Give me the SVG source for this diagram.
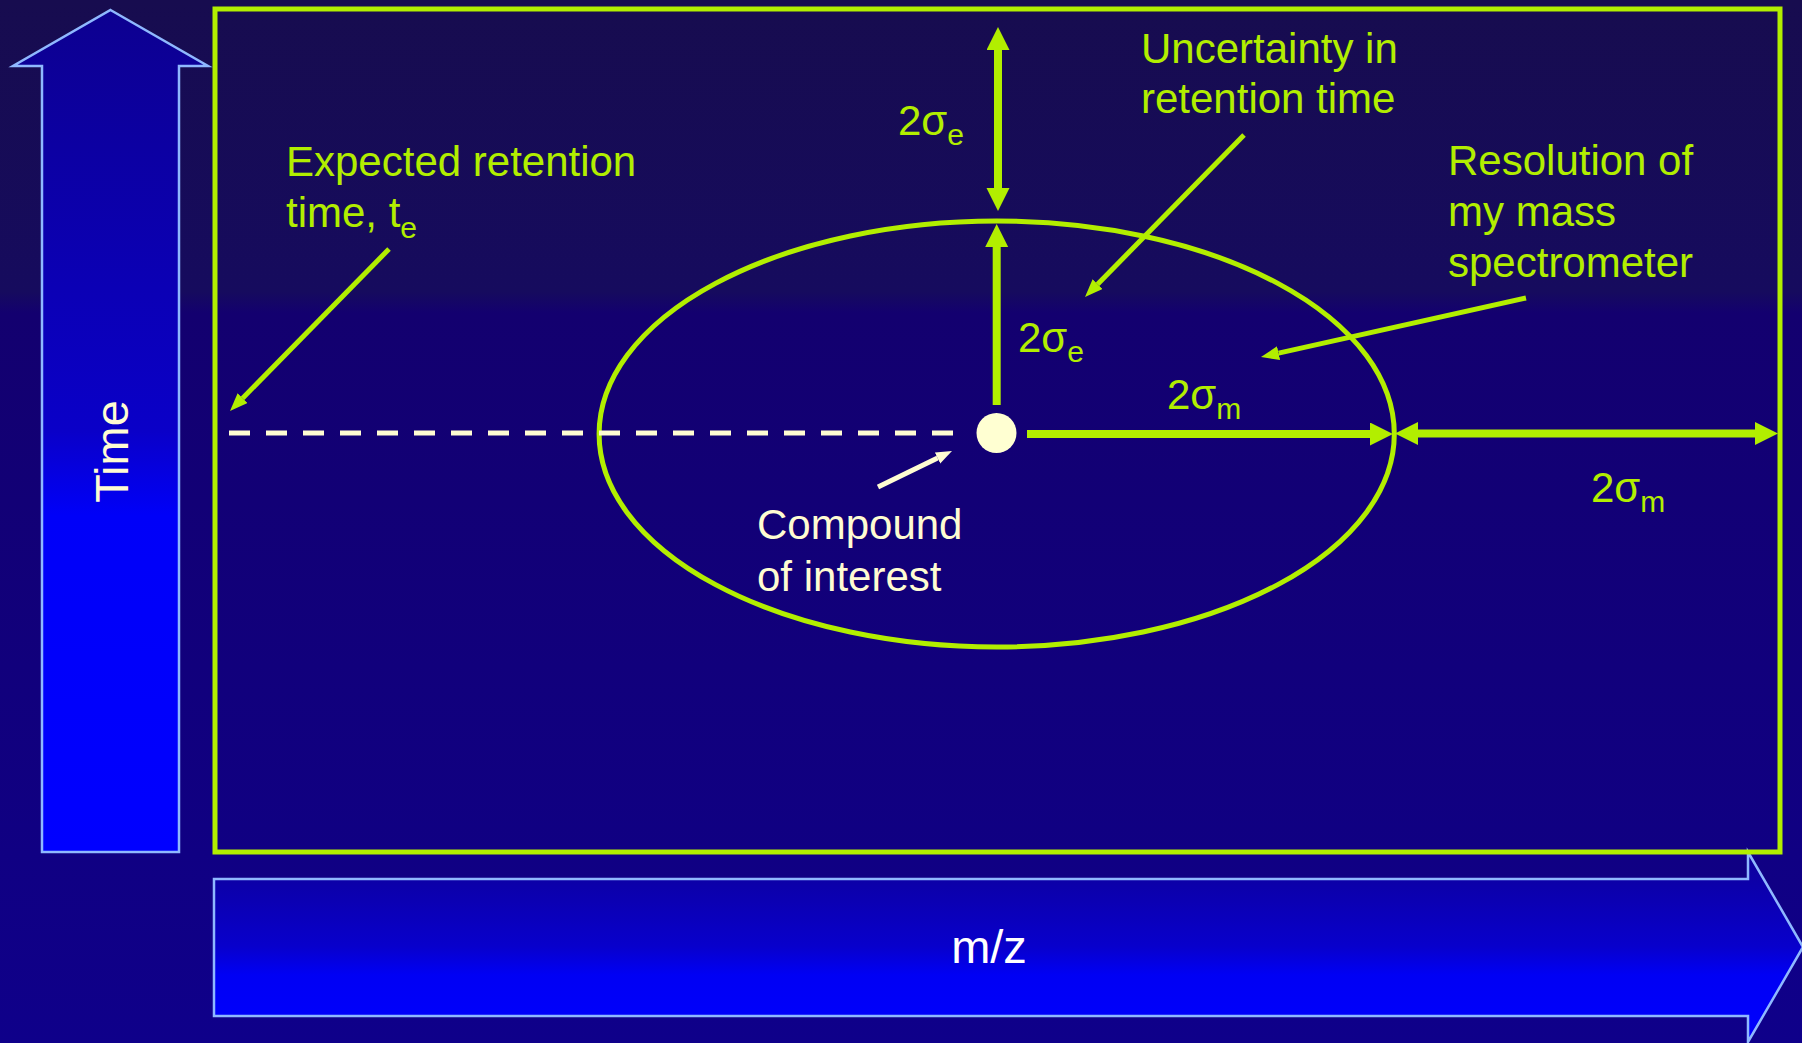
<svg xmlns="http://www.w3.org/2000/svg" width="1802" height="1043" viewBox="0 0 1802 1043">
  <defs>
    <linearGradient id="bg" x1="0" y1="0" x2="0" y2="1">
      <stop offset="0" stop-color="#170c4f"/>
      <stop offset="0.28" stop-color="#160b5e"/>
      <stop offset="0.30" stop-color="#13006f"/>
      <stop offset="1" stop-color="#0f008a"/>
    </linearGradient>
    <linearGradient id="timeFill" gradientUnits="userSpaceOnUse" x1="0" y1="10" x2="0" y2="852">
      <stop offset="0" stop-color="#0d0090"/>
      <stop offset="0.5" stop-color="#0a00c8"/>
      <stop offset="0.6" stop-color="#0000f8"/>
      <stop offset="1" stop-color="#0000ff"/>
    </linearGradient>
    <linearGradient id="mzFill" gradientUnits="userSpaceOnUse" x1="0" y1="852" x2="0" y2="1041">
      <stop offset="0" stop-color="#0e0098"/>
      <stop offset="0.5" stop-color="#0800cc"/>
      <stop offset="0.65" stop-color="#0000f4"/>
      <stop offset="1" stop-color="#0000ff"/>
    </linearGradient>
    <marker id="bigHead" markerUnits="userSpaceOnUse" markerWidth="24" markerHeight="24" refX="0" refY="11.5" orient="auto-start-reverse" viewBox="0 0 24 24">
      <path d="M0,0 L23,11.5 L0,23 Z" fill="#b2ee00"/>
    </marker>
    <marker id="smallHead" markerUnits="userSpaceOnUse" markerWidth="20" markerHeight="16" refX="0" refY="7" orient="auto" viewBox="0 0 20 16">
      <path d="M0,0 L18,7 L0,14 Z" fill="#b2ee00"/>
    </marker>
    <marker id="creamHead" markerUnits="userSpaceOnUse" markerWidth="18" markerHeight="14" refX="0" refY="6" orient="auto" viewBox="0 0 18 14">
      <path d="M0,0 L16,6 L0,12 Z" fill="#fffcd2"/>
    </marker>
    <style>
      .lbl { font-family: "Liberation Sans", Arial, sans-serif; font-size: 42px; fill: #b2ee00; }
      .sub { font-size: 30px; }
      .cream { fill: #fffcd2; }
      .axis { font-family: "Liberation Sans", Arial, sans-serif; font-size: 47px; }
      .big { stroke: #b2ee00; stroke-width: 8; fill: none; }
      .thin { stroke: #b2ee00; stroke-width: 5; fill: none; }
      .axisArrow { stroke: #8fb8ff; stroke-width: 2.5; }
    </style>
  </defs>

  <rect x="0" y="0" width="1802" height="1043" fill="url(#bg)"/>

  <g id="time-axis">
    <path class="axisArrow" d="M110.5,10 L208,66 L179,66 L179,852 L42,852 L42,66 L13,66 Z" fill="url(#timeFill)"/>
    <text class="axis" fill="#fffcd2" text-anchor="middle" transform="translate(128,451.5) rotate(-90)">Time</text>
  </g>

  <g id="mz-axis">
    <path class="axisArrow" d="M214,879 L1748,879 L1748,852 L1803,947 L1748,1042 L1748,1016 L214,1016 Z" fill="url(#mzFill)"/>
    <text class="axis" fill="#ffffff" text-anchor="middle" x="989" y="963">m/z</text>
  </g>

  <g id="plot-frame">
    <rect x="215" y="9" width="1565" height="843" fill="none" stroke="#b2ee00" stroke-width="5"/>
  </g>

  <g id="uncertainty-ellipse">
    <ellipse cx="996.7" cy="434" rx="397.6" ry="213" fill="none" stroke="#b2ee00" stroke-width="5"/>
  </g>

  <g id="connectors">
    <line x1="229" y1="433" x2="953" y2="433" stroke="#fffcd2" stroke-width="5" stroke-dasharray="21 16"/>
    <line class="big" x1="998" y1="50" x2="998" y2="188" marker-start="url(#bigHead)" marker-end="url(#bigHead)"/>
    <line class="big" x1="996.7" y1="405" x2="996.7" y2="247" marker-end="url(#bigHead)"/>
    <line class="big" x1="1027" y1="434" x2="1370" y2="434" marker-end="url(#bigHead)"/>
    <line class="big" x1="1418" y1="433.5" x2="1755" y2="433.5" marker-start="url(#bigHead)" marker-end="url(#bigHead)"/>
    <line class="thin" x1="389" y1="249" x2="242.6" y2="398.2" marker-end="url(#smallHead)"/>
    <line class="thin" x1="1244" y1="135" x2="1097.6" y2="284.2" marker-end="url(#smallHead)"/>
    <line class="thin" x1="1526" y1="298" x2="1278.6" y2="353.1" marker-end="url(#smallHead)"/>
    <line x1="878" y1="487" x2="937.6" y2="458" stroke="#fffcd2" stroke-width="5" marker-end="url(#creamHead)"/>
  </g>

  <g id="compound">
    <circle cx="996.5" cy="433" r="20" fill="#ffffd2"/>
    <text class="lbl cream" x="757" y="539">Compound</text>
    <text class="lbl cream" x="757" y="591">of interest</text>
  </g>

  <g id="label-expected">
    <text class="lbl" x="286" y="176">Expected retention</text>
    <text class="lbl" x="286" y="227">time, t<tspan class="sub" dy="11">e</tspan></text>
  </g>

  <g id="label-uncertainty">
    <text class="lbl" x="1141" y="63">Uncertainty in</text>
    <text class="lbl" x="1141" y="113">retention time</text>
  </g>

  <g id="label-resolution">
    <text class="lbl" x="1448" y="175">Resolution of</text>
    <text class="lbl" x="1448" y="226">my mass</text>
    <text class="lbl" x="1448" y="277">spectrometer</text>
  </g>

  <g id="label-sigma-e-outer">
    <text class="lbl" x="898" y="135">2σ<tspan class="sub" dy="10">e</tspan></text>
  </g>
  <g id="label-sigma-e-inner">
    <text class="lbl" x="1018" y="352">2σ<tspan class="sub" dy="10">e</tspan></text>
  </g>
  <g id="label-sigma-m-inner">
    <text class="lbl" x="1167" y="409">2σ<tspan class="sub" dy="10">m</tspan></text>
  </g>
  <g id="label-sigma-m-outer">
    <text class="lbl" x="1591" y="502">2σ<tspan class="sub" dy="10">m</tspan></text>
  </g>
</svg>
